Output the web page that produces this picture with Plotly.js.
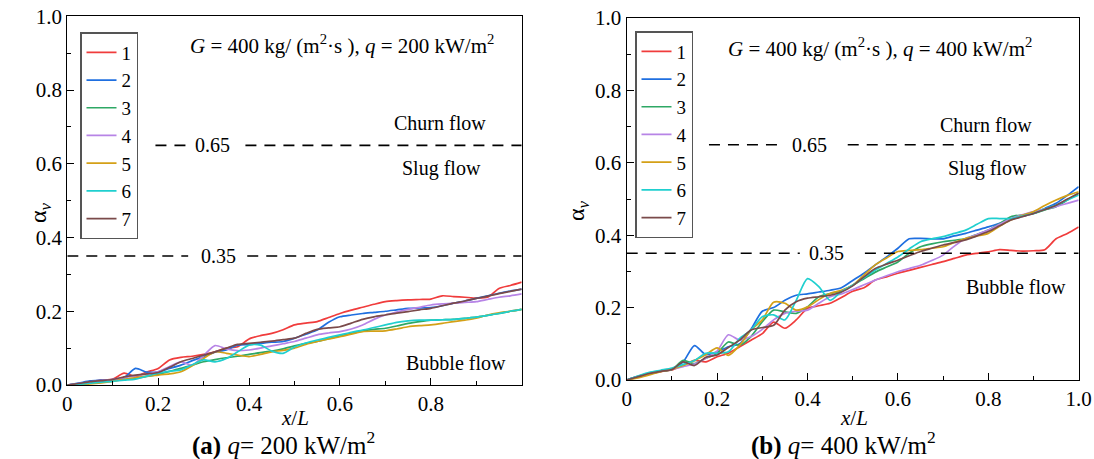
<!DOCTYPE html>
<html>
<head>
<meta charset="utf-8">
<script src="https://cdn.plot.ly/plotly-3.0.1.min.js"></script>
<style>html,body{margin:0;padding:0;background:#fff;}#chart{width:1094px;height:459px;}</style>
</head>
<body>
<div id="chart"></div>
<script>
// ---------- data ----------
const xGrid = [0,0.025,0.05,0.075,0.1,0.125,0.15,0.175,0.2,0.225,0.25,0.275,0.3,0.325,0.35,0.375,0.4,0.425,0.45,0.475,0.5,
  0.525,0.55,0.575,0.6,0.625,0.65,0.675,0.7,0.725,0.75,0.775,0.8,0.825,0.85,0.875,0.9,0.925,0.95,0.975,1.0];
const seriesNames = ['1','2','3','4','5','6','7'];
const seriesColors = ['#f03c3c','#1f6fe0','#2ea865','#b784e6','#d4a017','#1fcfcf','#7a4a4a'];

// panel (a): q = 200 kW/m2
const a1 = [0,.004,.009,.013,.016,.032,.023,.035,.045,.068,.075,.078,.083,.09,.1,.104,.125,.134,.14,.15,.163,
  .168,.172,.183,.194,.203,.211,.219,.226,.229,.231,.232,.233,.242,.24,.238,.236,.238,.262,.27,.279];
const a2 = [0,.005,.011,.013,.015,.02,.045,.035,.036,.045,.054,.066,.077,.089,.095,.108,.11,.113,.116,.118,.127,
  .138,.149,.17,.185,.19,.194,.197,.2,.204,.208,.209,.21,.215,.222,.228,.235,.242,.249,.255,.26];
const a3 = [0,.003,.006,.009,.012,.015,.018,.023,.029,.037,.045,.054,.063,.069,.074,.078,.083,.088,.092,.098,.106,
  .113,.118,.126,.133,.14,.147,.151,.154,.16,.167,.172,.176,.177,.178,.181,.184,.189,.194,.2,.205];
const a4 = [0,.004,.008,.012,.015,.02,.025,.03,.036,.05,.063,.054,.08,.107,.098,.093,.095,.1,.106,.112,.118,
  .127,.136,.141,.145,.152,.163,.178,.19,.198,.205,.211,.217,.22,.222,.224,.226,.232,.238,.242,.247];
const a5 = [0,.001,.003,.006,.01,.015,.02,.024,.027,.03,.036,.052,.072,.09,.086,.081,.077,.083,.09,.094,.1,
  .11,.118,.125,.131,.138,.145,.146,.147,.152,.158,.161,.163,.167,.172,.176,.181,.19,.196,.2,.205];
const a6 = [0,.002,.005,.008,.01,.013,.016,.024,.032,.037,.041,.055,.068,.063,.072,.09,.108,.108,.092,.086,.103,
  .114,.122,.129,.136,.143,.149,.156,.163,.17,.174,.176,.176,.177,.178,.181,.184,.189,.194,.2,.205];
const a7 = [0,.004,.009,.012,.015,.022,.027,.03,.034,.048,.063,.072,.081,.09,.1,.11,.113,.116,.119,.123,.127,
  .14,.151,.155,.158,.168,.178,.185,.19,.195,.199,.204,.208,.215,.222,.228,.235,.241,.248,.254,.26];

// panel (b): q = 400 kW/m2
const b1 = [0,.01,.018,.023,.028,.04,.054,.05,.064,.074,.092,.11,.128,.16,.143,.166,.198,.205,.212,.228,.245,
  .255,.276,.285,.295,.303,.311,.319,.327,.336,.345,.35,.354,.36,.358,.356,.357,.36,.39,.405,.423];
const b2 = [0,.01,.019,.025,.03,.05,.095,.07,.078,.092,.1,.14,.19,.2,.22,.234,.238,.243,.248,.255,.275,
  .295,.318,.34,.364,.39,.391,.39,.39,.398,.405,.414,.423,.433,.444,.452,.46,.474,.488,.51,.534];
const b3 = [0,.009,.018,.024,.029,.054,.045,.06,.074,.105,.096,.12,.161,.193,.188,.184,.202,.23,.239,.246,.262,
  .28,.298,.312,.326,.35,.368,.376,.382,.386,.391,.402,.414,.432,.451,.456,.46,.47,.479,.497,.516];
const b4 = [0,.008,.017,.024,.03,.037,.044,.06,.08,.125,.11,.12,.14,.166,.184,.19,.193,.212,.23,.238,.25,
  .263,.276,.288,.299,.308,.317,.33,.345,.37,.391,.402,.414,.43,.446,.456,.465,.472,.479,.488,.497];
const b5 = [0,.006,.014,.023,.03,.04,.054,.07,.089,.068,.096,.138,.166,.215,.212,.193,.202,.222,.239,.248,.262,
  .29,.318,.337,.355,.358,.36,.364,.368,.38,.391,.398,.405,.425,.442,.455,.465,.482,.497,.51,.52];
const b6 = [0,.011,.021,.027,.033,.043,.054,.074,.074,.078,.115,.138,.175,.18,.166,.22,.28,.258,.22,.244,.262,
  .283,.304,.322,.34,.362,.382,.39,.396,.405,.414,.43,.446,.446,.446,.453,.46,.472,.483,.497,.511];
const b7 = [0,.009,.018,.024,.029,.05,.04,.063,.069,.09,.11,.138,.145,.151,.193,.216,.226,.23,.234,.243,.26,
  .285,.308,.32,.331,.343,.355,.364,.373,.38,.387,.398,.41,.426,.442,.451,.46,.471,.483,.5,.516];

const thresholds = [0.35, 0.65];
const xTickVals = [0,0.2,0.4,0.6,0.8,1.0];
const xTickTextA = ['0','0.2','0.4','0.6','0.8',' '];
const xTickTextB = ['0','0.2','0.4','0.6','0.8','1.0'];
const yTickVals = [0,0.2,0.4,0.6,0.8,1.0];
const yTickText = ['0.0','0.2','0.4','0.6','0.8','1.0'];

// ---------- build ----------
const FONT = 'Liberation Serif, Times New Roman, serif';
const W = 1094, H = 459;
const px = v => v / W, py = v => 1 - v / H;

const panelA = [a1,a2,a3,a4,a5,a6,a7];
const panelB = [b1,b2,b3,b4,b5,b6,b7];
const traces = [];
panelA.forEach((ys,i) => traces.push({
  x: xGrid, y: ys, type:'scatter', mode:'lines', name: seriesNames[i],
  line:{color:seriesColors[i], width:1.7, shape:'spline', smoothing:0.7},
  xaxis:'x', yaxis:'y', legend:'legend'
}));
panelB.forEach((ys,i) => traces.push({
  x: xGrid, y: ys, type:'scatter', mode:'lines', name: seriesNames[i],
  line:{color:seriesColors[i], width:1.7, shape:'spline', smoothing:0.7},
  xaxis:'x2', yaxis:'y2', legend:'legend2'
}));

function xaxisCfg(domain, ticktext, anchor){
  return {domain, anchor, range:[0,1], tickmode:'array', tickvals:xTickVals, ticktext,
    ticks:'inside', ticklen:7, tickwidth:1, tickcolor:'#000',
    minor:{tickmode:'array', tickvals:[0.1,0.3,0.5,0.7,0.9], ticks:'inside', ticklen:4, tickwidth:1, tickcolor:'#000'},
    showline:true, mirror:true, linecolor:'#000', linewidth:1.2, showgrid:false, zeroline:false,
    tickfont:{family:FONT, size:21, color:'#000'}, fixedrange:true};
}
function yaxisCfg(domain, anchor){
  return {domain, anchor, range:[0,1], tickmode:'array', tickvals:yTickVals, ticktext:yTickText,
    ticks:'inside', ticklen:7, tickwidth:1, tickcolor:'#000',
    minor:{tickmode:'array', tickvals:[0.1,0.3,0.5,0.7,0.9], ticks:'inside', ticklen:4, tickwidth:1, tickcolor:'#000'},
    showline:true, mirror:true, linecolor:'#000', linewidth:1.2, showgrid:false, zeroline:false,
    tickfont:{family:FONT, size:21, color:'#000'}, fixedrange:true};
}

const dash = {color:'#000', width:1.6, dash:'11px,8px'};
const seg = (xr, yr, x0, x1, y) => ({type:'line', xref:xr, yref:yr, x0, x1, y0:y, y1:y, line:dash, layer:'above'});
const shapes = [
  seg('x','y',0.194,0.262,thresholds[1]), seg('x','y',0.392,1,thresholds[1]),
  seg('x','y',0,0.266,thresholds[0]), seg('x','y',0.396,1,thresholds[0]),
  seg('x2','y2',0.182,0.35,thresholds[1]), seg('x2','y2',0.489,1,thresholds[1]),
  seg('x2','y2',0,0.383,thresholds[0]), seg('x2','y2',0.527,1,thresholds[0])
];

const tf = {family:FONT, size:20, color:'#000'};
const tfBig = {family:FONT, size:21, color:'#000'};
const capF = {family:FONT, size:25, color:'#000'};
const ann = (text, x, y, xanchor='center', opts={}) => Object.assign({text, x:px(x), y:py(y), xref:'paper', yref:'paper',
  xanchor, yanchor:'middle', showarrow:false, font:tf}, opts);
const lab = (text, x, y, xr, yr) => ({text, x, y, xref:xr, yref:yr, showarrow:false, font:tf, xanchor:'center', yanchor:'middle'});
const annotations = [
  // panel a
  ann('<i>G</i> = 400 kg/ (m<sup>2</sup>·s ), <i>q</i> = 200 kW/m<sup>2</sup>', 496, 45, 'right', {font:tfBig}),
  ann('Churn flow', 440, 123),
  ann('Slug flow', 441, 168),
  ann('Bubble flow', 456, 363),
  lab('0.65', 0.319, thresholds[1], 'x', 'y'),
  lab('0.35', 0.332, thresholds[0], 'x', 'y'),
  ann('α<sub><i>v</i></sub>', 40, 213, 'center', {textangle:-90, font:{family:FONT, size:24, color:'#000'}}),
  ann('<i>x</i>/<i>L</i>', 295, 418, 'center', {font:tfBig}),
  ann('<b>(a)</b> <i>q</i>= 200 kW/m<sup>2</sup>', 284, 443, 'center', {font:capF}),
  // panel b
  ann('<i>G</i> = 400 kg/ (m<sup>2</sup>·s ), <i>q</i> = 400 kW/m<sup>2</sup>', 1034, 47, 'right', {font:tfBig}),
  ann('Churn flow', 986, 125),
  ann('Slug flow', 987, 168),
  ann('Bubble flow', 1016, 287),
  lab('0.65', 0.405, thresholds[1], 'x2', 'y2'),
  lab('0.35', 0.441, thresholds[0], 'x2', 'y2'),
  ann('α<sub><i>v</i></sub>', 578, 211, 'center', {textangle:-90, font:{family:FONT, size:24, color:'#000'}}),
  ann('<i>x</i>/<i>L</i>', 854, 418, 'center', {font:tfBig}),
  ann('<b>(b)</b> <i>q</i>= 400 kW/m<sup>2</sup>', 843, 443, 'center', {font:capF})
];

const legendCfg = (x, y) => ({x:px(x), y:py(y), xanchor:'left', yanchor:'top', xref:'paper', yref:'paper',
  bgcolor:'#fff', bordercolor:'#555', borderwidth:1.5, font:{family:FONT, size:19, color:'#000'},
  itemwidth:30, tracegroupgap:0, traceorder:'normal'});

const layout = {
  width:W, height:H, margin:{l:0,r:0,t:0,b:0}, paper_bgcolor:'#fff', plot_bgcolor:'#fff',
  font:{family:FONT, color:'#000', size:20}, showlegend:true,
  xaxis: xaxisCfg([67.3/W, 521.7/W], xTickTextA, 'y'),
  yaxis: yaxisCfg([(H-385)/H, (H-16.4)/H], 'x'),
  xaxis2: xaxisCfg([626.7/W, 1078.7/W], xTickTextB, 'y2'),
  yaxis2: yaxisCfg([(H-380)/H, (H-18)/H], 'x2'),
  legend: legendCfg(80, 32),
  legend2: legendCfg(635, 31),
  shapes, annotations
};
Plotly.newPlot('chart', traces, layout, {displayModeBar:false, staticPlot:true});
</script>
</body>
</html>
